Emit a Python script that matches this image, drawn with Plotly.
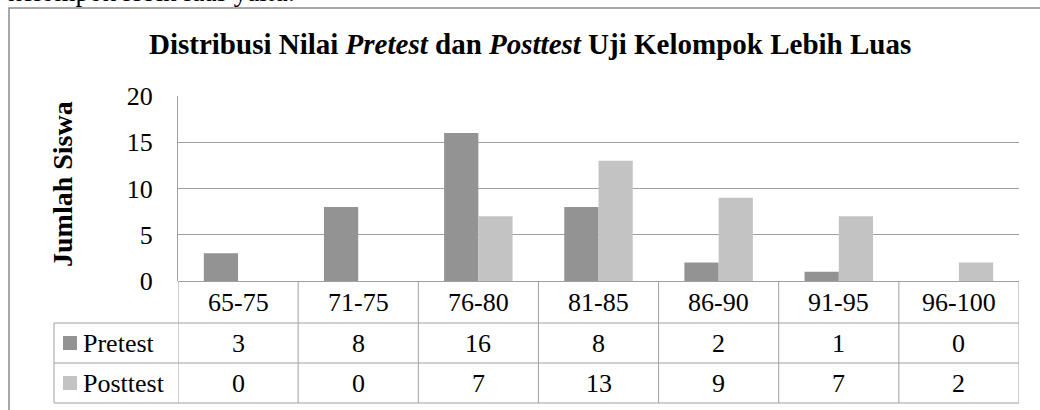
import plotly.graph_objects as go

categories = ["65-75", "71-75", "76-80", "81-85", "86-90", "91-95", "96-100"]
pretest = [3, 8, 16, 8, 2, 1, 0]
posttest = [0, 0, 7, 13, 9, 7, 2]
series_names = ["Pretest", "Posttest"]
y_ticks = [0, 5, 10, 15, 20]

W, H = 1040, 410
FONT = "Liberation Serif"
PRE_COL = "#939393"
POST_COL = "#c3c3c3"
LINE_COL = "#a0a0a0"

def px(x):
    return x / W

def py(y):
    return 1 - y / H

x_left, x_right = 178, 1019
y_top, y_bottom = 96, 281

fig = go.Figure()
fig.add_trace(go.Bar(x=categories, y=pretest, name=series_names[0],
                     marker=dict(color=PRE_COL, line=dict(width=0))))
fig.add_trace(go.Bar(x=categories, y=posttest, name=series_names[1],
                     marker=dict(color=POST_COL, line=dict(width=0))))

shapes = []
annotations = []

# outer chart frame
shapes.append(dict(type="rect", xref="paper", yref="paper",
                   x0=px(9), x1=px(1060), y0=py(430), y1=py(8),
                   line=dict(color="#8c8c8c", width=1.5), layer="below"))

# table rows
row_lines = [323, 363, 403]
for yy in row_lines:
    shapes.append(dict(type="line", xref="paper", yref="paper",
                       x0=px(54), x1=px(x_right), y0=py(yy), y1=py(yy),
                       line=dict(color=LINE_COL, width=1)))
# left border of legend column
shapes.append(dict(type="line", xref="paper", yref="paper",
                   x0=px(54), x1=px(54), y0=py(323), y1=py(403),
                   line=dict(color=LINE_COL, width=1)))
# vertical column borders (category boundaries on x axis)
for i in range(len(categories) + 1):
    shapes.append(dict(type="line", xref="x", yref="paper",
                       x0=i - 0.5, x1=i - 0.5, y0=py(y_bottom), y1=py(403),
                       line=dict(color=LINE_COL, width=1)))

# category labels and values
cell_font = dict(family=FONT, size=26, color="#000000")
def cell(x, y, text, xref="x", xanchor="center"):
    return dict(x=x, y=y, xref=xref, yref="paper", text=text, showarrow=False,
                xanchor=xanchor, yanchor="middle", font=cell_font)

for i, c in enumerate(categories):
    annotations.append(cell(i, py(302), c))
    annotations.append(cell(i, py(343), str(pretest[i])))
    annotations.append(cell(i, py(383), str(posttest[i])))

# legend keys in table
for name, col, yc in [(series_names[0], PRE_COL, 343), (series_names[1], POST_COL, 383)]:
    shapes.append(dict(type="rect", xref="paper", yref="paper",
                       x0=px(63), x1=px(77), y0=py(yc + 7), y1=py(yc - 7),
                       fillcolor=col, line=dict(width=0)))
    annotations.append(cell(px(81), py(yc), name, xref="paper", xanchor="left"))

# title
annotations.append(dict(x=px(530), y=py(44), xref="paper", yref="paper",
                        xanchor="center", yanchor="middle",
                        text="<b>Distribusi Nilai <i>Pretest</i> dan <i>Posttest</i> Uji Kelompok Lebih Luas</b>",
                        showarrow=False, font=dict(family=FONT, size=29, color="#000000")))
# y-axis title
annotations.append(dict(x=px(63), y=py(184), xref="paper", yref="paper",
                        xanchor="center", yanchor="middle",
                        text="<b>Jumlah Siswa</b>", textangle=-90,
                        showarrow=False, font=dict(family=FONT, size=28, color="#000000")))
# cut-off body text at top of page
annotations.append(dict(x=px(297), y=py(9), xref="paper", yref="paper",
                        text="kelompok lebih luas yaitu:", xanchor="right", yanchor="bottom",
                        showarrow=False, font=dict(family=FONT, size=27, color="#000000")))

fig.update_layout(
    template="none",
    width=W, height=H,
    margin=dict(l=0, r=0, t=0, b=0, pad=0, autoexpand=False),
    paper_bgcolor="white", plot_bgcolor="white",
    barmode="group", bargap=0.43, bargroupgap=0,
    showlegend=False,
    shapes=shapes, annotations=annotations,
    xaxis=dict(domain=[px(x_left), px(x_right)], range=[-0.5, len(categories) - 0.5],
               showticklabels=False, ticks="", showgrid=False, showline=False, zeroline=False,
               automargin=False, fixedrange=True),
    yaxis=dict(domain=[py(y_bottom), py(y_top)], range=[0, 20], tickvals=y_ticks,
               showgrid=True, gridcolor=LINE_COL, gridwidth=1,
               showline=True, linecolor=LINE_COL, linewidth=1,
               zeroline=True, zerolinecolor=LINE_COL, zerolinewidth=1,
               ticks="outside", ticklen=19, tickcolor="rgba(0,0,0,0)",
               automargin=False,
               tickfont=dict(family=FONT, size=26, color="#000000"), fixedrange=True),
)

fig.write_html("out.html", config={"displayModeBar": False},
               post_script="document.body.style.margin='0';document.body.style.overflow='hidden';")
